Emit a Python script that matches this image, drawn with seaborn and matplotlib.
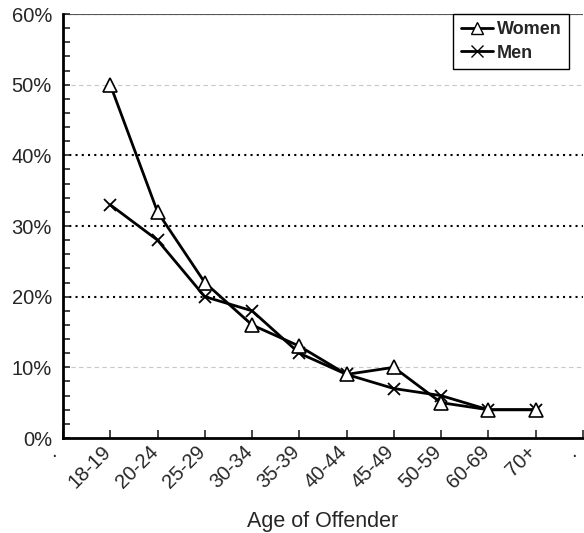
import numpy as np
import pandas as pd
import seaborn as sns
import matplotlib.pyplot as plt
from matplotlib.ticker import MultipleLocator, FuncFormatter
from matplotlib.lines import Line2D
from matplotlib.transforms import ScaledTranslation

ages = ["18-19", "20-24", "25-29", "30-34", "35-39",
        "40-44", "45-49", "50-59", "60-69", "70+"]
women = [50, 32, 22, 16, 13, 9, 10, 5, 4, 4]
men = [33, 28, 20, 18, 12, 9, 7, 6, 4, 4]

sns.set_style("white")
plt.rcParams["font.family"] = ["Liberation Sans", "DejaVu Sans"]

pos = np.arange(1, len(ages) + 1)
df_w = pd.DataFrame({"pos": pos, "pct": women})
df_m = pd.DataFrame({"pos": pos, "pct": men})

fig = plt.figure(figsize=(5.84, 5.33), dpi=100)
ax = fig.add_axes([63 / 584, 1 - 438 / 533, 1 - 63 / 584 - 0.002, (438 - 14) / 533])

# grid lines
for y in [10, 50]:
    ax.axhline(y, color="#c8c8c8", lw=0.8, ls=(0, (4, 3)), zorder=0)
for y in [20, 30, 40, 60]:
    ax.axhline(y, color="black", lw=1.5, ls=(0, (1, 2)), zorder=0)
ax.axhline(60, color="#555555", lw=0.8, zorder=0)

sns.lineplot(data=df_m, x="pos", y="pct", color="black", lw=2,
             marker="x", markersize=8.5, markeredgewidth=1.3,
             markeredgecolor="black", ax=ax)
sns.lineplot(data=df_w, x="pos", y="pct", color="black", lw=2,
             marker="^", markersize=9.5, markeredgewidth=1.2,
             markerfacecolor="white", markeredgecolor="black", ax=ax)

ax.set_xlim(0, 11)
ax.set_ylim(0, 60)
ax.yaxis.set_major_locator(MultipleLocator(10))
ax.yaxis.set_minor_locator(MultipleLocator(2))
ax.yaxis.set_major_formatter(FuncFormatter(lambda v, p: f"{int(v)}%"))
ax.tick_params(axis="y", which="both", direction="in", length=5, width=1.2,
               labelsize=14.5, pad=8, left=True)
ax.tick_params(axis="x", direction="in", length=6, width=1.2, pad=3,
               bottom=True)
ax.set_xticks(np.arange(0, 12))
ax.set_xticklabels(["."] + ages + ["."], rotation=45, ha="right",
                   rotation_mode="anchor", fontsize=14.5)
shift = ScaledTranslation(-9 / 100, 0, fig.dpi_scale_trans)
labs = ax.get_xticklabels()
for lab in labs:
    lab.set_transform(lab.get_transform() + shift)
# the end dots sit flat
for lab in (labs[0], labs[-1]):
    lab.set_rotation(0)
    lab.set_horizontalalignment("center")

for s in ["top", "right"]:
    ax.spines[s].set_visible(False)
for s in ["left", "bottom"]:
    ax.spines[s].set_linewidth(2)
    ax.spines[s].set_color("black")

ax.set_xlabel("Age of Offender", fontsize=15.5, labelpad=14)
ax.set_ylabel("")

handles = [
    Line2D([], [], color="black", lw=2, marker="^", markersize=8,
           markerfacecolor="white", markeredgecolor="black"),
    Line2D([], [], color="black", lw=2, marker="x", markersize=8),
]
leg = ax.legend(handles, ["Women", "Men"], loc="upper right",
                bbox_to_anchor=(0.973, 1.0), borderaxespad=0,
                fancybox=False, framealpha=1, edgecolor="black",
                handlelength=1.8, handletextpad=0.2, borderpad=0.4,
                labelspacing=0.35, prop={"weight": "bold", "size": 13})
leg.get_frame().set_linewidth(1)

fig.savefig("out.png", dpi=100)
